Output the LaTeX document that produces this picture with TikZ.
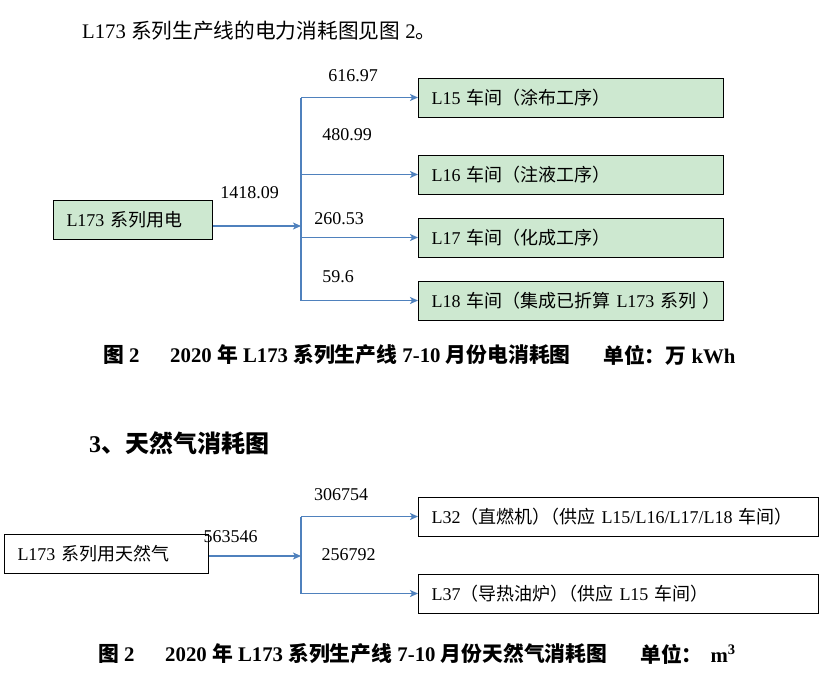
\documentclass[tikz,border=0pt]{standalone}
\usepackage{fontspec}
\setmainfont{Liberation Serif}
\newfontfamily\cjk{Noto Sans CJK SC}
\usetikzlibrary{arrows.meta}
\definecolor{boxgreen}{RGB}{205,232,208}
\definecolor{lineblue}{RGB}{79,129,189}
\newcommand\zh[1]{{\cjk #1}}

\begin{document}
\begin{tikzpicture}[x=1pt,y=-1pt,
    every node/.style={inner sep=0pt, font=\fontsize{18}{20}\selectfont},
    box/.style={draw, rectangle, line width=1pt, anchor=west, minimum height=39pt, inner xsep=13pt, align=left},
    capt/.style={anchor=west, font=\fontsize{20.8}{24}\selectfont\bfseries},
    flow/.style={-{Stealth[length=8pt,width=7pt,inset=2pt]}, lineblue, line width=1.3pt}]
    \useasboundingbox (0,0) rectangle (829,683);

    % intro line
    \node[anchor=west, font=\fontsize{20.7}{24}\selectfont] (intro) at (82,31) {L173 \zh{系列生产线的电力消耗图见图} 2\zh{。}};

    % electricity
    \node[box, fill=boxgreen, text width=133pt] (src1) at (53,219.5) {L173 \zh{系列用电}};
    \coordinate (hub1) at (301,226);
    \node[box, fill=boxgreen, text width=279pt] (b15) at (418,97.5) {L15 \zh{车间（涂布工序）}};
    \node[box, fill=boxgreen, text width=279pt] (b16) at (418,174.5) {L16 \zh{车间（注液工序）}};
    \node[box, fill=boxgreen, text width=279pt] (b17) at (418,237.5) {L17 \zh{车间（化成工序）}};
    \node[box, fill=boxgreen, text width=279pt] (b18) at (418,300.5) {\mbox{L18 \zh{车间（集成已折算} L173 \zh{系列 ）}}};
    \draw[lineblue, line width=1.3pt] (hub1 |- b15) -- (hub1 |- b18);
    \draw[flow] (src1.east |- hub1) -- (hub1);
    \foreach \b in {b15,b16,b17,b18}
        \draw[flow] (hub1 |- \b) -- (\b);
    \node (sum1) at (249.5,193) {1418.09};
    \node (v15) at (353,76) {616.97};
    \node (v16) at (347,135) {480.99};
    \node (v17) at (339,219) {260.53};
    \node (v18) at (338,277) {59.6};

    \node[capt] (cap1a) at (103,355) {\zh{图} 2};
    \node[capt] (cap1b) at (170,355) {2020 \zh{年} L173 \zh{系列生产线} 7-10 \zh{月份电消耗图}};
    \node[capt] (cap1c) at (603,355) {\zh{单位：万} kWh};

    % natural gas
    \node[anchor=west, font=\fontsize{24}{28}\selectfont\bfseries] (head3) at (89,443) {3\zh{、天然气消耗图}};

    \node[box, text width=178pt] (src2) at (4,553.5) {L173 \zh{系列用天然气}};
    \coordinate (hub2) at (301,556);
    \node[box, text width=374pt] (b32) at (418,516.5) {\mbox{L32\zh{（直燃机）\hspace{-0.5em}（供应} L15/L16/L17/L18 \zh{车间）}}};
    \node[box, text width=374pt] (b37) at (418,593.5) {\mbox{L37\zh{（导热油炉）\hspace{-0.5em}（供应} L15 \zh{车间）}}};
    \draw[lineblue, line width=1.3pt] (hub2 |- b32) -- (hub2 |- b37);
    \draw[flow] (src2.east |- hub2) -- (hub2);
    \foreach \b in {b32,b37}
        \draw[flow] (hub2 |- \b) -- (\b);
    \node (sum2) at (230.5,537) {563546};
    \node (v32) at (341,495) {306754};
    \node (v37) at (348.5,555) {256792};

    \node[capt] (cap2a) at (98,654) {\zh{图} 2};
    \node[capt] (cap2b) at (165,654) {2020 \zh{年} L173 \zh{系列生产线} 7-10 \zh{月份天然气消耗图}};
    \node[capt] (cap2c) at (640,654) {\zh{单位：}\hspace{8pt}m\textsuperscript{3}};
\end{tikzpicture}
\end{document}
